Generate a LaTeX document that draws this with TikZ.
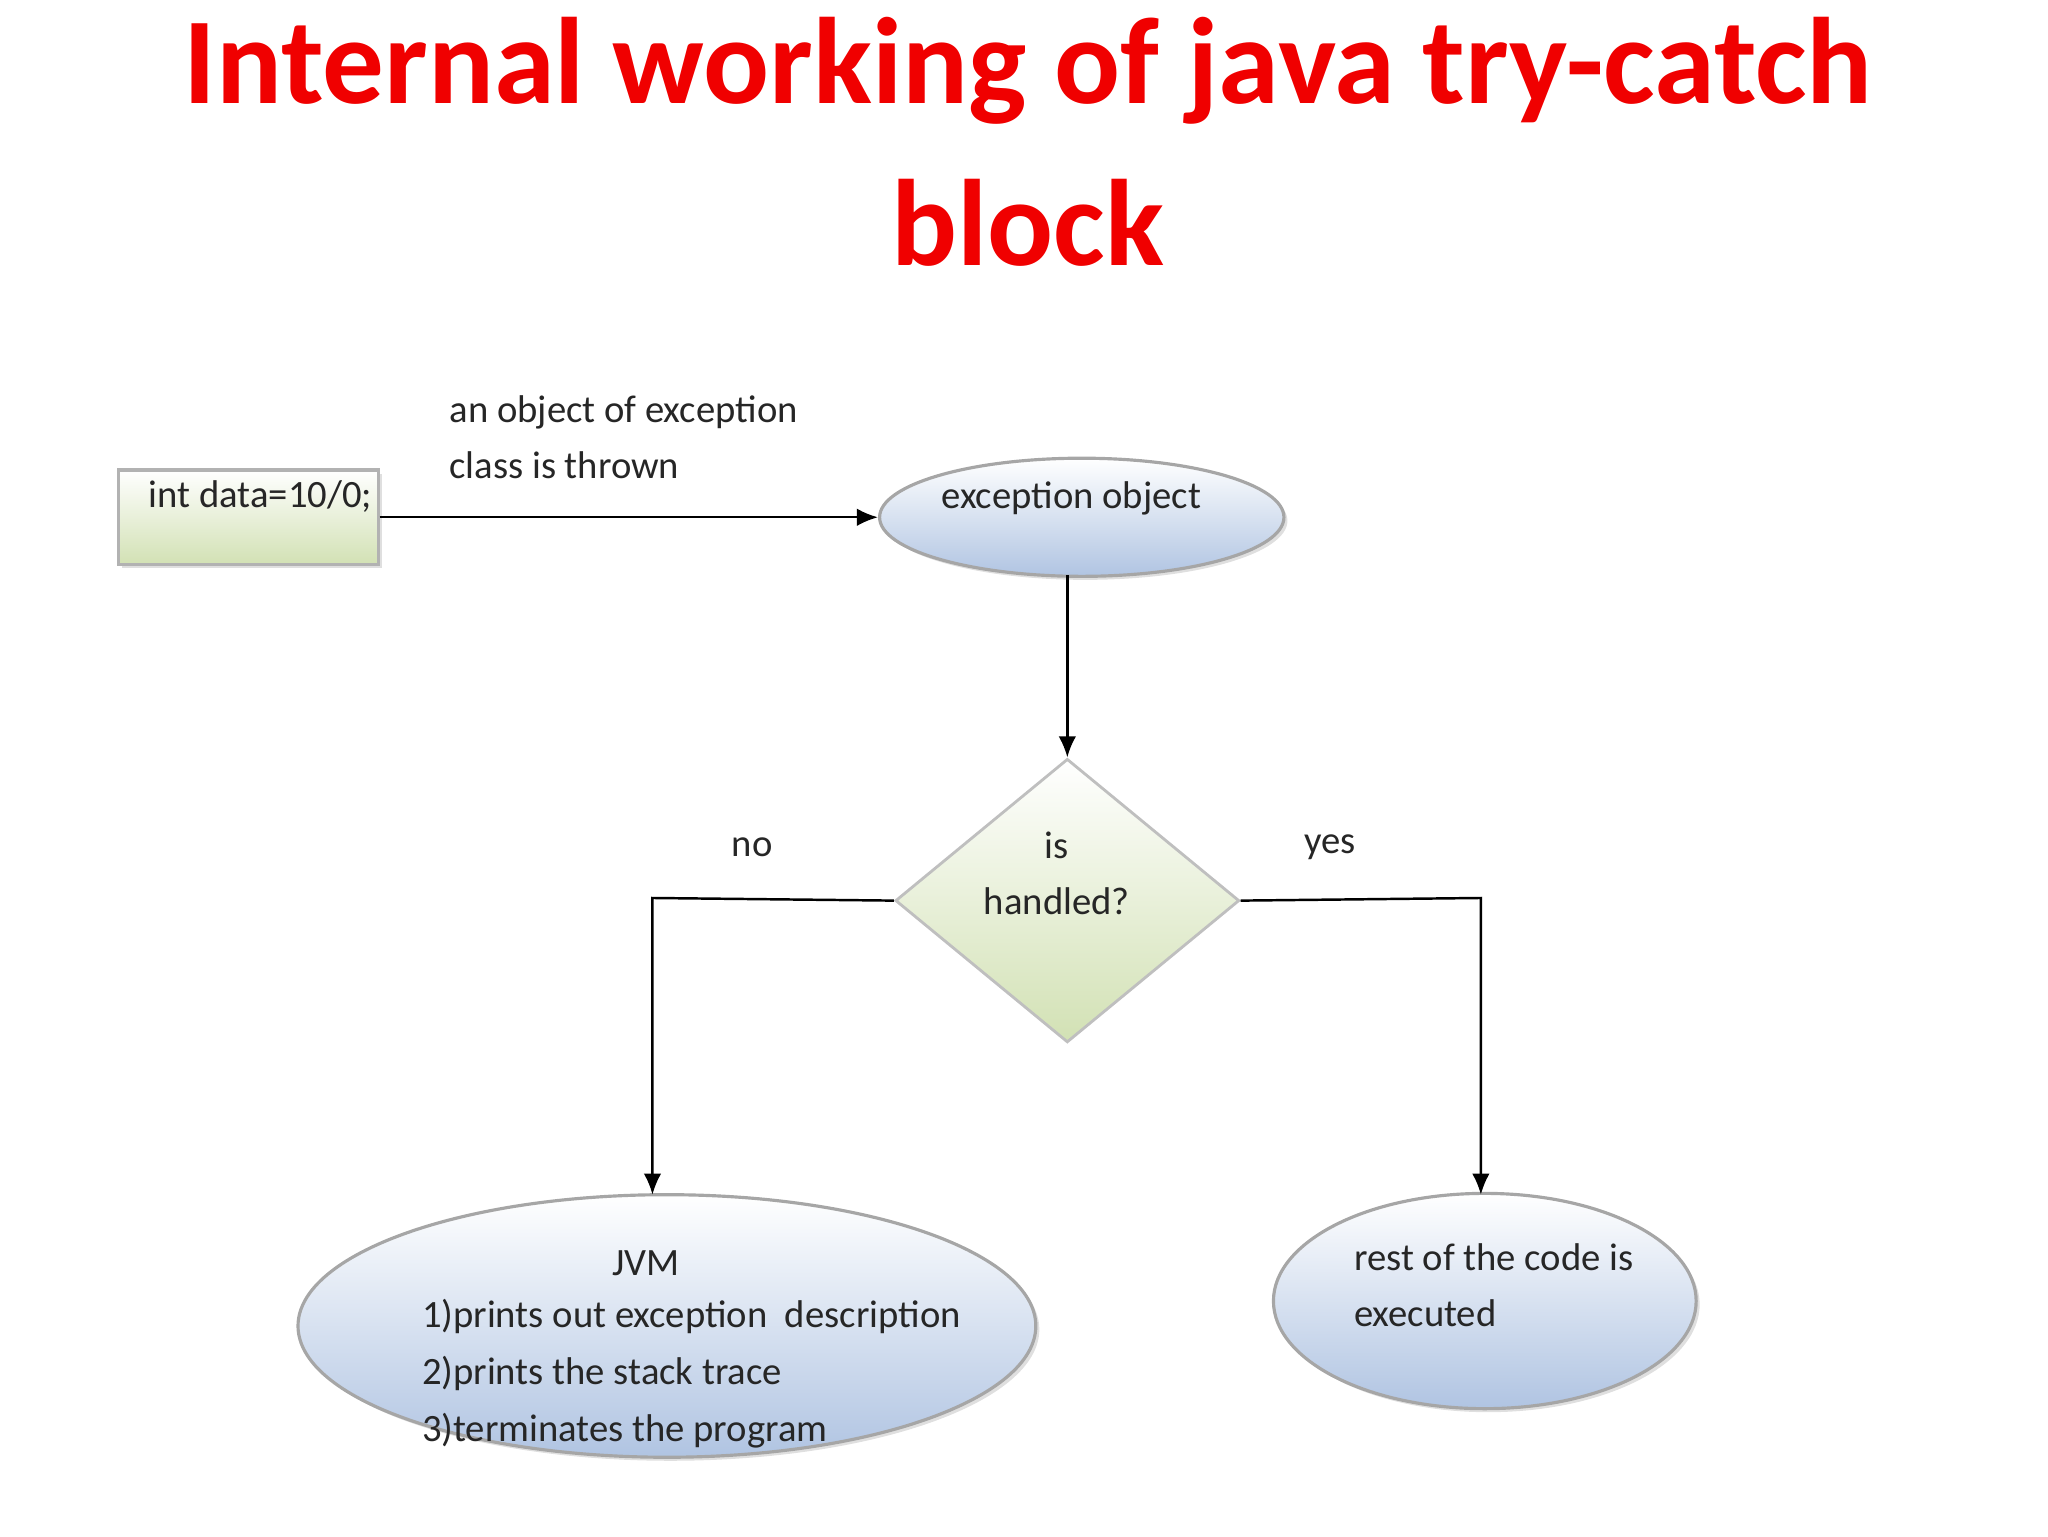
\documentclass[tikz,border=0pt]{standalone}
\usepackage{fontspec}
\setmainfont{Carlito}
\usetikzlibrary{shapes.geometric,arrows.meta,shadows}
\definecolor{tred}{RGB}{240,0,0}
\definecolor{bluef}{RGB}{176,196,226}
\definecolor{greenf}{RGB}{210,225,180}
\begin{document}
\begin{tikzpicture}[x=0.1313mm,y=-0.1313mm,
  lbl/.style={font=\fontsize{11}{16}\selectfont, text=black!85, align=left},
  ell/.style={ellipse, draw=gray!70, line width=0.9pt, top color=white, bottom color=bluef, inner sep=0pt, drop shadow={opacity=0.25,shadow xshift=1pt,shadow yshift=-1pt}},
  arr/.style={-{Latex[length=6pt,width=5pt]}, line width=0.7pt}]
\useasboundingbox (0,0) rectangle (1560,1170);
\node[font=\fontsize{35}{46}\selectfont\bfseries, text=tred, align=center] (title) at (783,108) {Internal working of java try-catch\\block};
\node[draw=gray!60, line width=0.9pt, top color=white, bottom color=greenf, minimum width=198*0.1313mm, minimum height=72*0.1313mm, drop shadow={opacity=0.25,shadow xshift=1pt,shadow yshift=-1pt}] (rect) at (189,394) {};
\node[lbl, anchor=west] (rtext) at (104,378) {int data=10/0;};
\node[lbl, anchor=west] (thrown) at (333,333) {an object of exception\\class is thrown};
\node[ell, minimum width=308*0.1313mm, minimum height=90*0.1313mm] (exc) at (824,394) {};
\node[lbl] at (816,380) {exception object};
\node[diamond, draw=gray!50, line width=0.8pt, top color=white, bottom color=greenf, minimum width=262*0.1313mm, minimum height=216*0.1313mm, inner sep=0pt, aspect=1.21] (dia) at (813,686) {};
\node[lbl, align=center] at (805,665) {is\\handled?};
\node[lbl] (no) at (573,645) {no};
\node[lbl] (yes) at (1013,645) {yes};
\node[ell, minimum width=562*0.1313mm, minimum height=200*0.1313mm] (jvm) at (508,1010) {};
\node[lbl, align=center] at (492,962) {JVM};
\node[lbl, anchor=north west, font=\fontsize{11}{16.3}\selectfont] at (312,980) {1)prints out exception\ \ description\\2)prints the stack trace\\3)terminates the program};
\node[ell, minimum width=322*0.1313mm, minimum height=164*0.1313mm] (rest) at (1131,991) {};
\node[lbl, anchor=north west] at (1022,938) {rest of the code is\\executed};
\coordinate (nocorner) at (497,684);
\coordinate (yescorner) at (1128,684);
\coordinate (noend) at (497,910);
\coordinate (yesend) at (1128,910);
\draw[arr] (rect.east) -- (exc.west);
\draw[arr] (813,438) -- (dia.north);
\draw[arr] (dia.west) -- (nocorner) -- (noend);
\draw[arr] (dia.east) -- (yescorner) -- (yesend);
\end{tikzpicture}
\end{document}
